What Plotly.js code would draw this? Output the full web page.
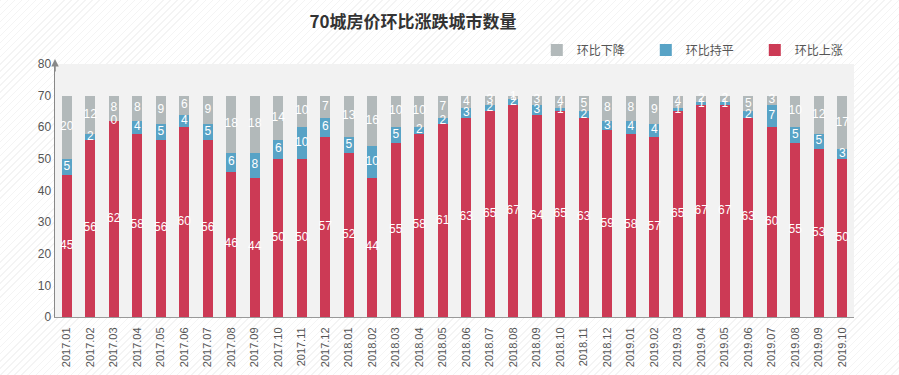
<!DOCTYPE html>
<html>
<head>
<meta charset="utf-8">
<script src="https://cdn.plot.ly/plotly-3.0.1.min.js"></script>
<style>
html,body{margin:0;padding:0;}
body{width:899px;height:375px;background:#ffffff;
background-image:repeating-linear-gradient(135deg,#f4f4f4 0px,#f4f4f4 1px,#ffffff 1px,#ffffff 5px);}
#chart{width:899px;height:375px;}
</style>
</head>
<body>
<div id="chart"></div>
<script>
var months = ["2017.01","2017.02","2017.03","2017.04","2017.05","2017.06","2017.07","2017.08","2017.09","2017.10","2017.11","2017.12",
"2018.01","2018.02","2018.03","2018.04","2018.05","2018.06","2018.07","2018.08","2018.09","2018.10","2018.11","2018.12",
"2019.01","2019.02","2019.03","2019.04","2019.05","2019.06","2019.07","2019.08","2019.09","2019.10"];
var upCities   = [45,56,62,58,56,60,56,46,44,50,50,57, 52,44,55,58,61,63,65,67,64,65,63,59, 58,57,65,67,67,63,60,55,53,50];
var flatCities = [5,2,0,4,5,4,5,6,8,6,10,6, 5,10,5,2,2,3,2,2,3,1,2,3, 4,4,1,1,1,2,7,5,5,3];
var downCities = [20,12,8,8,9,6,9,18,18,14,10,7, 13,16,10,10,7,4,3,1,3,4,5,8, 8,9,4,2,2,5,3,10,12,17];

var seriesNames = ["环比上涨","环比持平","环比下降"];
var colors = ["#cc3a55","#58a3c6","#b2b9ba"];
var font = "Liberation Sans, Arial, sans-serif";

var traces = [
  {type:"bar", name:seriesNames[0], x:months, y:upCities, marker:{color:colors[0]}, hoverinfo:"x+y+name"},
  {type:"bar", name:seriesNames[1], x:months, y:flatCities, marker:{color:colors[1]}, hoverinfo:"x+y+name"},
  {type:"bar", name:seriesNames[2], x:months, y:downCities, marker:{color:colors[2]}, hoverinfo:"x+y+name"}
];

function labelTrace(vals, base){
  return {type:"scatter", mode:"text", x:months,
    y: vals.map(function(v,i){ return base[i] + v/2; }),
    text: vals.map(String), textposition:"middle center",
    textfont:{color:"#ffffff", size:12, family:font},
    showlegend:false, hoverinfo:"skip", cliponaxis:false};
}
var zeros = months.map(function(){return 0;});
var upTop = upCities.slice();
var flatTop = upCities.map(function(v,i){return v+flatCities[i];});
traces.push(labelTrace(upCities, zeros));
traces.push(labelTrace(flatCities, upTop));
traces.push(labelTrace(downCities, flatTop));

var layout = {
  width:899, height:375,
  margin:{l:55, r:45, t:64, b:58},
  paper_bgcolor:"rgba(0,0,0,0)",
  plot_bgcolor:"#f2f2f2",
  barmode:"stack",
  bargap:0.575,
  font:{family:font, color:"#555555", size:12},
  title:{text:"<b>70城房价环比涨跌城市数量</b>", x:413/899, xanchor:"center", y:0.94, yanchor:"middle",
         font:{size:17, color:"#333333", family:"Noto Sans CJK SC, sans-serif"}},
  showlegend:true,
  legend:{orientation:"h", x:0.603, xanchor:"left", y:1.055, yanchor:"middle",
          traceorder:"reversed", entrywidth:64, entrywidthmode:"pixels",
          font:{size:12, color:"#555555", family:"Noto Sans CJK SC, sans-serif"},
          bgcolor:"rgba(0,0,0,0)", itemwidth:30},
  xaxis:{type:"category", range:[-0.5,33.5], showgrid:false, zeroline:false,
         showline:true, linecolor:"#999999", linewidth:1, ticks:"", ticklabelstandoff:5,
         tickangle:-90, tickfont:{size:11, color:"#555555", family:font}, fixedrange:true},
  yaxis:{range:[0,80], dtick:10, showgrid:false, zeroline:false,
         showline:true, linecolor:"#888888", linewidth:1.5, ticks:"",
         tickfont:{size:12, color:"#555555", family:font}, fixedrange:true},
  annotations:[{xref:"paper", yref:"paper", x:0, y:1.02, ax:0, ay:14, axref:"pixel", ayref:"pixel",
                showarrow:true, arrowhead:2, arrowsize:1, arrowwidth:1.5, arrowcolor:"#888888", text:""}]
};

Plotly.newPlot("chart", traces, layout, {displayModeBar:false, staticPlot:true});
</script>
</body>
</html>
